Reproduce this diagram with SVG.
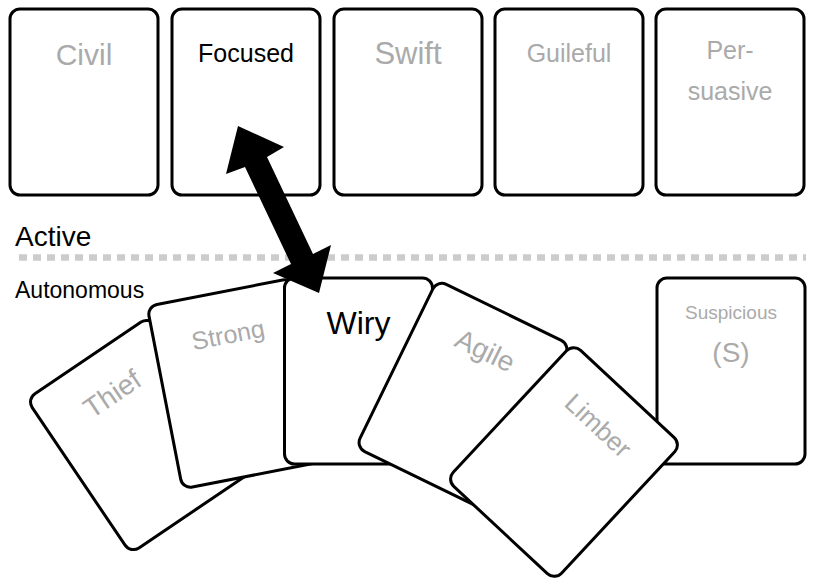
<svg xmlns="http://www.w3.org/2000/svg" width="818" height="588" viewBox="0 0 818 588">
<style>
.card rect{fill:#fff;stroke:#000;stroke-width:3}
text{font-family:"Liberation Sans",Arial,sans-serif;text-anchor:middle}
.g{fill:#aaaaaa}
.k{fill:#000}
.lbl{text-anchor:start;fill:#000}
</style>
<rect width="818" height="588" fill="#fff"/>
<line x1="19" y1="257.5" x2="806" y2="257.5" stroke="#cccccc" stroke-width="6.5" stroke-dasharray="8 6"/>
<text class="lbl" x="15" y="246" font-size="28">Active</text>
<text class="lbl" x="15" y="298" font-size="23">Autonomous</text>

<g id="civil" class="card" transform="translate(84,102)"><rect x="-74" y="-93" width="148" height="186" rx="10"/><text class="g" y="-37" font-size="30">Civil</text></g>
<g id="focused" class="card" transform="translate(246,102)"><rect x="-74" y="-93" width="148" height="186" rx="10"/><text class="k" y="-40" font-size="25">Focused</text></g>
<g id="swift" class="card" transform="translate(408,102)"><rect x="-74" y="-93" width="148" height="186" rx="10"/><text class="g" y="-38" font-size="31">Swift</text></g>
<g id="guileful" class="card" transform="translate(569,102)"><rect x="-74" y="-93" width="148" height="186" rx="10"/><text class="g" y="-40" font-size="25">Guileful</text></g>
<g id="persuasive" class="card" transform="translate(730,102)"><rect x="-74" y="-93" width="148" height="186" rx="10"/><text class="g" y="-43" font-size="25">Per-</text><text class="g" y="-2" font-size="25">suasive</text></g>

<g id="suspicious" class="card" transform="translate(731,371)"><rect x="-74" y="-93" width="148" height="186" rx="10"/><text class="g" y="-52" font-size="19">Suspicious</text><text class="g" y="-9" font-size="28">(S)</text></g>
<g id="thief" class="card" transform="translate(140,435) rotate(-34)"><rect x="-74" y="-93" width="148" height="186" rx="10"/><text class="g" y="-40" font-size="28">Thief</text></g>
<g id="strong" class="card" transform="translate(237.5,383.5) rotate(-11)"><rect x="-74" y="-93" width="148" height="186" rx="10"/><text class="g" y="-41" font-size="25">Strong</text></g>
<g id="wiry" class="card" transform="translate(358.5,371)"><rect x="-74" y="-93" width="148" height="186" rx="10"/><text class="k" y="-37" font-size="32">Wiry</text></g>
<g id="agile" class="card" transform="translate(463,396) rotate(26)"><rect x="-74" y="-93" width="148" height="186" rx="10"/><text class="g" y="-41" font-size="28">Agile</text></g>
<g id="limber" class="card" transform="translate(564,462) rotate(43)"><rect x="-74" y="-93" width="148" height="186" rx="10"/><text class="g" y="-41" font-size="26">Limber</text></g>

<g id="connectors">
<polygon points="238,126 284,147 267,157 313,254 331,245 319,293 273,273 291,264 245,167 226,174" fill="#000"/>
</g>
</svg>
